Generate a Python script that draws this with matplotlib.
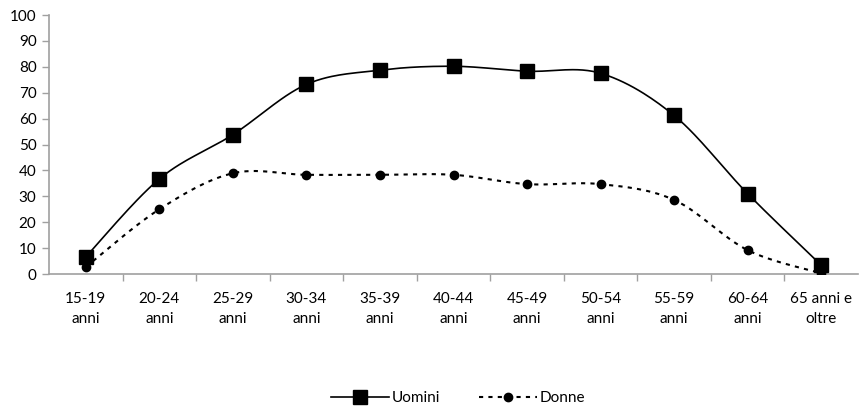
import numpy as np
import matplotlib
matplotlib.use("Agg")
import matplotlib.pyplot as plt
from matplotlib.lines import Line2D

plt.rcParams['font.family'] = ['Lato', 'DejaVu Sans']

categories = ["15-19\nanni", "20-24\nanni", "25-29\nanni", "30-34\nanni", "35-39\nanni",
              "40-44\nanni", "45-49\nanni", "50-54\nanni", "55-59\nanni", "60-64\nanni",
              "65 anni e\noltre"]
uomini = [6.6, 36.7, 53.8, 73.2, 78.7, 80.2, 78.3, 77.5, 61.2, 31.0, 3.4]
donne = [2.7, 25.0, 38.9, 38.3, 38.3, 38.3, 34.7, 34.7, 28.6, 9.2, 0.3]
yticks = list(range(0, 101, 10))


def smooth(xs, ys, n=30):
    """Catmull-Rom style cubic Bezier through every point."""
    p = np.column_stack([xs, ys]).astype(float)
    out = []
    for i in range(len(p) - 1):
        p0 = p[i - 1] if i > 0 else p[i]
        p1 = p[i]
        p2 = p[i + 1]
        p3 = p[i + 2] if i + 2 < len(p) else p[i + 1]
        c1 = p1 + (p2 - p0) / 6.0
        c2 = p2 - (p3 - p1) / 6.0
        t = np.linspace(0, 1, n)[:, None]
        seg = ((1 - t) ** 3) * p1 + 3 * ((1 - t) ** 2) * t * c1 + 3 * (1 - t) * t ** 2 * c2 + t ** 3 * p2
        out.append(seg if i == 0 else seg[1:])
    s = np.vstack(out)
    return s[:, 0], s[:, 1]


fig = plt.figure(figsize=(8.6, 4.11), dpi=100)
ax = fig.add_axes([49 / 860, 1 - 274 / 411, (858 - 49) / 860, (274 - 15) / 411])

x = np.arange(len(categories))

sx, sy = smooth(x, uomini)
ax.plot(sx, sy, color='black', lw=1.2, zorder=3)
ax.plot(x, uomini, ls='none', marker='s', ms=10, color='black', zorder=4)

dx, dy = smooth(x, donne)
ax.plot(dx, dy, color='black', lw=1.5, ls=(0, (2.0, 2.5)), zorder=3)
ax.plot(x, donne, ls='none', marker='o', ms=6, color='black', zorder=4)

ax.set_xlim(-0.5, len(categories) - 0.5)
ax.set_ylim(0, 100)
ax.set_yticks(yticks)
ax.set_yticklabels([str(v) for v in yticks], fontsize=11)
ax.set_xticks(x)
ax.set_xticklabels(categories, fontsize=11, linespacing=1.55)
ax.set_xticks(np.arange(0.5, len(categories) - 1, 1.0), minor=True)
ax.tick_params(axis='x', which='major', length=0, pad=13)
ax.tick_params(axis='x', which='minor', length=5, color='#a0a0a0', width=1)
ax.tick_params(axis='y', length=5, color='#a0a0a0', width=1, pad=4)

for side in ('top', 'right'):
    ax.spines[side].set_visible(False)
for side in ('left', 'bottom'):
    ax.spines[side].set_color('#a0a0a0')
    ax.spines[side].set_linewidth(1.2)

handles = [
    Line2D([], [], color='black', lw=1.2, marker='s', ms=10),
    Line2D([], [], color='black', lw=1.5, ls=(0, (2.0, 2.5)), marker='o', ms=6),
]
fig.legend(handles, ['Uomini', 'Donne'], loc='center', bbox_to_anchor=(458 / 860, 1 - 398 / 411),
           ncol=2, frameon=False, fontsize=11, handlelength=3.8, handletextpad=0.2,
           columnspacing=2.5)

fig.savefig('out.png', dpi=100)
